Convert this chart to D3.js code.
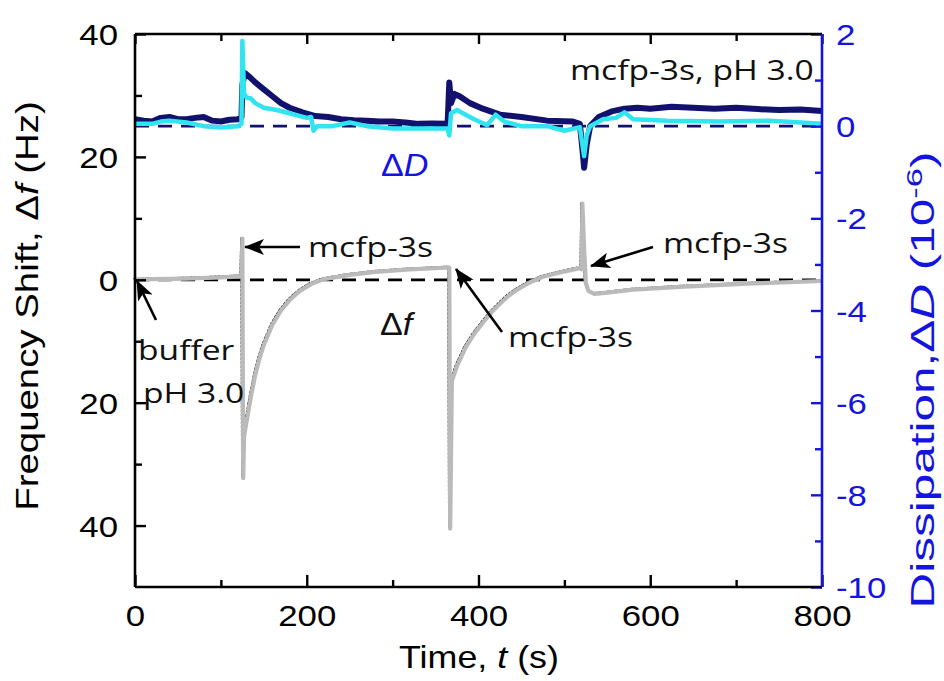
<!DOCTYPE html>
<html><head><meta charset="utf-8">
<script src="https://cdn.jsdelivr.net/npm/d3@7"></script>
<style>
html,body{margin:0;padding:0;background:#fff;}
svg{display:block;}
</style></head>
<body>
<svg id="chart" width="944" height="681"></svg>
<script>
// ---------- DATA ----------
const xTicksMajor = [0, 200, 400, 600, 800];
const xTicksMinor = [100, 300, 500, 700];
const fTicksMajor = [40, 20, 0, -20, -40];
const fTicksMinor = [30, 10, -10, -30];
const dTicksMajor = [2, 0, -2, -4, -6, -8, -10];
const dTicksMinor = [1, -1, -3, -5, -7, -9];

// Frequency shift Δf (Hz)
const dfTime = [0,20,60,100,124,125,126,127,130,135,140,145,150,160,170,180,192,205,220,250,280,320,366,367,369,375,385,395,405,415,425,435,445,460,475,495,518,520,521,523,525,528,535,550,580,640,720,800];
const dfValue = [0,0.1,0.2,0.4,0.6,6.7,-32.3,-25.5,-23,-19,-15.5,-12.8,-10.6,-7.3,-5,-3.3,-1.8,-0.7,0.1,0.8,1.3,1.7,2.0,-40.5,-16.5,-14,-11,-8.8,-7,-5.3,-3.9,-2.6,-1.6,-0.4,0.5,1.2,1.9,1.7,12.4,5,-0.5,-1.8,-2.3,-2.1,-1.6,-1.1,-0.6,-0.2];

// Dissipation ΔD (1e-6), dark trace
const dNavyTime = [0,10,20,30,40,50,60,70,80,90,100,110,120,124,125,128,134,140,150,160,170,180,195,210,225,240,255,270,285,300,315,330,345,364,366,368,372,378,390,405,425,450,480,510,518,521,523,526,530,540,555,570,585,600,625,650,675,700,725,750,775,800];
const dNavyValue = [0.15,0.12,0.1,0.18,0.2,0.15,0.15,0.18,0.2,0.12,0.1,0.14,0.15,0.2,0.9,1.15,1.06,0.95,0.8,0.65,0.5,0.4,0.3,0.22,0.2,0.15,0.13,0.12,0.1,0.1,0.08,0.05,0.06,0.05,0.95,0.5,0.7,0.65,0.5,0.38,0.25,0.2,0.12,0.1,0.05,-0.5,-0.9,-0.4,0.0,0.2,0.32,0.38,0.4,0.38,0.42,0.4,0.38,0.4,0.37,0.35,0.36,0.33];

// Dissipation ΔD (1e-6), light trace
const dCyanTime = [0,20,30,40,60,80,100,120,124,125,127,130,135,140,150,165,180,200,205,208,212,230,250,270,300,330,364,366,368,375,385,395,410,420,430,450,480,500,518,521,523,526,530,545,560,570,580,620,680,740,800];
const dCyanValue = [0.05,0.05,0.1,0.12,0.08,0.0,-0.03,0.0,0.05,1.85,0.7,0.62,0.6,0.5,0.4,0.35,0.28,0.18,0.2,-0.1,0.0,0.0,0.08,0.0,-0.05,-0.05,-0.05,-0.2,0.28,0.35,0.25,0.15,0.02,0.25,0.1,0.0,0.0,-0.1,-0.02,-0.4,-0.65,-0.2,0.0,0.15,0.18,0.3,0.15,0.12,0.1,0.12,0.05];

// ---------- LAYOUT ----------
const svg = d3.select("#chart");
const L = 135, R = 822, T = 34, B = 587;
const x = d3.scaleLinear().domain([0, 800]).range([L, R]);
const yF = d3.scaleLinear().domain([-50, 40]).range([B, T]);
const yD = d3.scaleLinear().domain([-10, 2]).range([B, T]);

const NUMF = "'Liberation Sans', Arial, sans-serif";
const ANNF = "'Open Sans', 'Noto Sans', sans-serif";
const BLUE = "#1414e0";
const NAVY = "#12126e";
const CYAN = "#30e4f0";
const SX = 1.2;

// ---------- reference dashed lines ----------
svg.append("line").attr("x1", L).attr("x2", R).attr("y1", yF(0)).attr("y2", yF(0))
  .attr("stroke", "#000").attr("stroke-width", 2.8).attr("stroke-dasharray", "14,9");
svg.append("line").attr("x1", L).attr("x2", R).attr("y1", yD(0)).attr("y2", yD(0))
  .attr("stroke", NAVY).attr("stroke-width", 2.8).attr("stroke-dasharray", "14,9");

// ---------- traces ----------
const dfData = dfTime.map((t, i) => [t, dfValue[i]]);
const navyData = dNavyTime.map((t, i) => [t, dNavyValue[i]]);
const cyanData = dCyanTime.map((t, i) => [t, dCyanValue[i]]);

const lineF = d3.line().x(d => x(d[0])).y(d => yF(d[1]));
const lineD = d3.line().x(d => x(d[0])).y(d => yD(d[1]));

svg.append("path").datum(navyData).attr("d", lineD)
  .attr("fill", "none").attr("stroke", NAVY).attr("stroke-width", 6).attr("stroke-linejoin", "round");
svg.append("path").datum(cyanData).attr("d", lineD)
  .attr("fill", "none").attr("stroke", CYAN).attr("stroke-width", 4.5).attr("stroke-linejoin", "round");

svg.append("path").datum(dfData).attr("d", lineF)
  .attr("transform", "translate(-1.5,-1.2)")
  .attr("fill", "none").attr("stroke", "#000").attr("stroke-width", 1.2).attr("stroke-dasharray", "3,1");
svg.append("path").datum(dfData).attr("d", lineF)
  .attr("fill", "none").attr("stroke", "#bababa").attr("stroke-width", 4.2).attr("stroke-linejoin", "round");

// ---------- axes ----------
function styleAxis(g, color) {
  g.select(".domain").remove();
  g.selectAll("line").attr("stroke", color).attr("stroke-width", 2.4);
}
const TICKFS = 29;
// bottom
const gB = svg.append("g").attr("transform", `translate(0,${B})`)
  .call(d3.axisBottom(x).tickValues(xTicksMajor).tickSize(-12).tickFormat(d3.format("d")));
styleAxis(gB, "#000");
gB.selectAll("text").attr("y", 0).attr("dy", 0)
  .attr("transform", `translate(0,39) scale(${SX},1)`)
  .attr("font-family", NUMF).attr("font-size", TICKFS).attr("fill", "#000");
const gBm = svg.append("g").attr("transform", `translate(0,${B})`)
  .call(d3.axisBottom(x).tickValues(xTicksMinor).tickSize(-7).tickFormat(""));
styleAxis(gBm, "#000");
// top
const gT = svg.append("g").attr("transform", `translate(0,${T})`)
  .call(d3.axisTop(x).tickValues(xTicksMajor).tickSize(-10).tickFormat(""));
styleAxis(gT, "#000");
const gTm = svg.append("g").attr("transform", `translate(0,${T})`)
  .call(d3.axisTop(x).tickValues(xTicksMinor).tickSize(-7).tickFormat(""));
styleAxis(gTm, "#000");
// left
const gL = svg.append("g").attr("transform", `translate(${L},0)`)
  .call(d3.axisLeft(yF).tickValues(fTicksMajor).tickSize(-11).tickFormat(d => Math.abs(d)));
styleAxis(gL, "#000");
gL.selectAll("text").attr("x", 0).attr("dy", 0)
  .attr("transform", `translate(-17,10.5) scale(${SX},1)`)
  .attr("font-family", NUMF).attr("font-size", TICKFS).attr("fill", "#000").attr("text-anchor", "end");
const gLm = svg.append("g").attr("transform", `translate(${L},0)`)
  .call(d3.axisLeft(yF).tickValues(fTicksMinor).tickSize(-7).tickFormat(""));
styleAxis(gLm, "#000");
// right
const gR = svg.append("g").attr("transform", `translate(${R},0)`)
  .call(d3.axisRight(yD).tickValues(dTicksMajor).tickSize(-11).tickFormat(d => d));
styleAxis(gR, BLUE);
gR.selectAll("text").attr("x", 0).attr("dy", 0)
  .attr("transform", `translate(14,10.5) scale(${SX},1)`)
  .attr("font-family", NUMF).attr("font-size", TICKFS).attr("fill", BLUE).attr("text-anchor", "start");
const gRm = svg.append("g").attr("transform", `translate(${R},0)`)
  .call(d3.axisRight(yD).tickValues(dTicksMinor).tickSize(-7).tickFormat(""));
styleAxis(gRm, BLUE);

// frame lines
svg.append("line").attr("x1", L).attr("x2", R).attr("y1", T).attr("y2", T).attr("stroke", "#000").attr("stroke-width", 2.6);
svg.append("line").attr("x1", L).attr("x2", R).attr("y1", B).attr("y2", B).attr("stroke", "#000").attr("stroke-width", 2.6);
svg.append("line").attr("x1", L).attr("x2", L).attr("y1", T).attr("y2", B).attr("stroke", "#000").attr("stroke-width", 2.6);
svg.append("line").attr("x1", R).attr("x2", R).attr("y1", T).attr("y2", B).attr("stroke", BLUE).attr("stroke-width", 2.6);

// ---------- axis titles ----------
const xt = svg.append("text").attr("transform", `translate(479,668) scale(1.12,1)`)
  .attr("text-anchor", "middle").attr("font-family", NUMF).attr("font-size", 32).attr("fill", "#000");
xt.append("tspan").text("Time, ");
xt.append("tspan").attr("font-style", "italic").text("t");
xt.append("tspan").text(" (s)");

const yt = svg.append("text").attr("transform", `translate(38,306) rotate(-90) scale(1.2,1)`)
  .attr("text-anchor", "middle").attr("font-family", NUMF).attr("font-size", 32).attr("fill", "#000");
yt.append("tspan").text("Frequency Shift, Δ");
yt.append("tspan").attr("font-style", "italic").text("f");
yt.append("tspan").text(" (Hz)");

const yt2 = svg.append("text").attr("transform", `translate(934,380) rotate(-90) scale(1.5,1)`)
  .attr("text-anchor", "middle").attr("font-family", NUMF).attr("font-size", 33).attr("fill", BLUE);
yt2.append("tspan").text("Dissipation,Δ");
yt2.append("tspan").attr("font-style", "italic").text("D");
yt2.append("tspan").text(" (10");
yt2.append("tspan").attr("font-size", 23).attr("dy", -12).text("-6");
yt2.append("tspan").attr("dy", 12).text(")");

// ---------- annotations ----------
const defs = svg.append("defs");
defs.append("marker").attr("id", "arrow").attr("viewBox", "0 0 20 16")
  .attr("refX", 19).attr("refY", 8).attr("markerWidth", 20).attr("markerHeight", 16)
  .attr("markerUnits", "userSpaceOnUse").attr("orient", "auto")
  .append("path").attr("d", "M0,0 L20,8 L0,16 L5,8 Z").attr("fill", "#000");

function arrow(x1, y1, x2, y2) {
  svg.append("line").attr("x1", x1).attr("y1", y1).attr("x2", x2).attr("y2", y2)
    .attr("stroke", "#000").attr("stroke-width", 2.6).attr("marker-end", "url(#arrow)");
}
function label(txt, xx, yy, opts = {}) {
  return svg.append("text").attr("transform", `translate(${xx},${yy}) scale(${SX},1)`)
    .attr("font-family", opts.font || ANNF).attr("font-size", opts.size || 28)
    .attr("fill", opts.color || "#111").text(txt);
}

label("mcfp-3s, pH 3.0", 570, 80);
label("mcfp-3s", 308, 257);
arrow(300, 247, 245, 247);
label("buffer", 138, 360);
label("pH 3.0", 143, 403);
arrow(156, 320, 137, 281);
label("mcfp-3s", 508, 347);
arrow(502, 332, 456, 269);
label("mcfp-3s", 663, 253);
arrow(653, 247, 591, 266);

const dfl = svg.append("text").attr("transform", `translate(380,335) scale(1.1,1)`)
  .attr("font-family", NUMF).attr("font-size", 31).attr("fill", "#111");
dfl.append("tspan").text("Δ");
dfl.append("tspan").attr("font-style", "italic").text("f");

const ddl = svg.append("text").attr("transform", `translate(381,176) scale(1.1,1)`)
  .attr("font-family", NUMF).attr("font-size", 31).attr("fill", BLUE);
ddl.append("tspan").text("Δ");
ddl.append("tspan").attr("font-style", "italic").text("D");
</script>
</body></html>
